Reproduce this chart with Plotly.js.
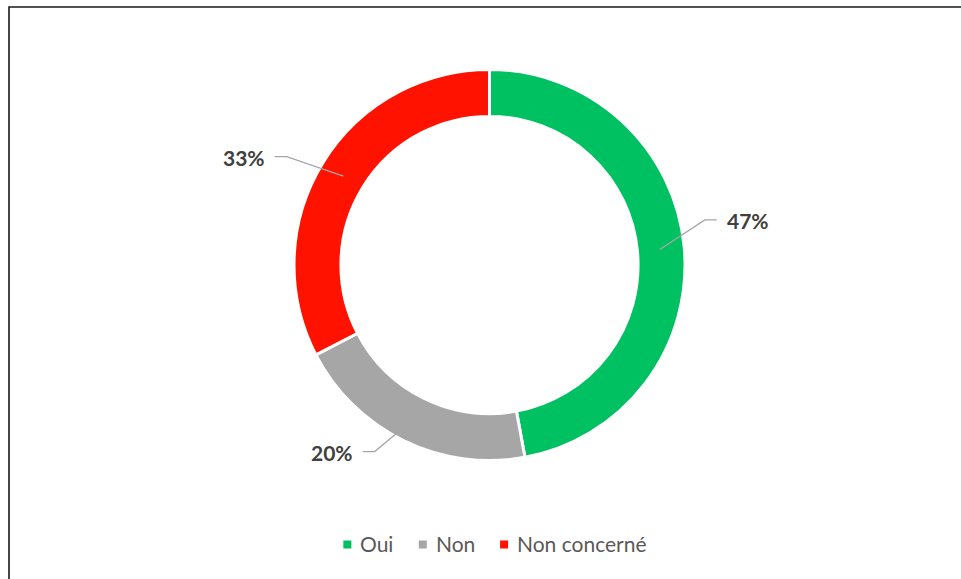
<!DOCTYPE html>
<html>
<head>
<meta charset="utf-8">
<script src="https://cdn.plot.ly/plotly-3.0.1.min.js"></script>
<style>html,body{margin:0;padding:0;background:#fff;}#chart{width:961px;height:579px;}</style>
</head>
<body>
<div id="chart"></div>
<script>
// ---- data ----
const categories = ['Oui', 'Non', 'Non concerné'];
const values = [47.1, 20.3, 32.6];
const colors = ['#00C161', '#A6A6A6', '#FF1200'];

// ---- geometry / style ----
const W = 961, H = 579;
const cx = 489.5, cy = 265, R = 195.5, hole = 0.76;
const startR = 171;
const elbowShift = [-6.6, 5.5, -3.2];   // degrees, label placement nudges
const elbowR = [220, 219, 230];
const tailLen = 12, textGap = 8;
const FONT = 'Lato, "Open Sans", sans-serif';

const px = x => x / W;
const py = y => 1 - y / H;

const total = values.reduce((a, b) => a + b, 0);
const shapes = [];
const annotations = [];

// frame
shapes.push({type: 'rect', xref: 'paper', yref: 'paper',
  x0: px(9), x1: px(W + 20), y0: py(H + 20), y1: py(7),
  line: {color: '#1a1a1a', width: 1.6}, fillcolor: 'rgba(0,0,0,0)', layer: 'below'});

// leader lines & labels
let cum = 0;
values.forEach((v, i) => {
  const mid = (cum + v / 2) / total * 360;
  cum += v;
  const a0 = mid * Math.PI / 180;
  const a1 = (mid + elbowShift[i]) * Math.PI / 180;
  const sx = cx + startR * Math.sin(a0), sy = cy - startR * Math.cos(a0);
  const ex = cx + elbowR[i] * Math.sin(a1), ey = cy - elbowR[i] * Math.cos(a1);
  const right = Math.sin(a1) > 0;
  const tx = ex + (right ? tailLen : -tailLen);
  shapes.push({type: 'path', xref: 'paper', yref: 'paper',
    path: `M${px(sx)},${py(sy)} L${px(ex)},${py(ey)} L${px(tx)},${py(ey)}`,
    line: {color: '#A6A6A6', width: 1.3}});
  annotations.push({xref: 'paper', yref: 'paper',
    x: px(tx + (right ? textGap : -textGap)), y: py(ey + 1),
    xanchor: right ? 'left' : 'right', yanchor: 'middle', showarrow: false,
    text: '<b>' + Math.round(v / total * 100) + '%</b>',
    font: {family: FONT, size: 21, color: '#404040'}});
});

// manual legend
const legFontSize = 21, legY = 544.5, sq = 8, sqGap = 8, itemGap = 26, legCenter = 494.5;
const ctx = document.createElement('canvas').getContext('2d');
ctx.font = legFontSize + 'px ' + FONT;
const widths = categories.map(c => ctx.measureText(c).width);
const totalW = widths.reduce((a, w) => a + sq + sqGap + w, 0) + itemGap * (categories.length - 1);
let lx = legCenter - totalW / 2;
categories.forEach((c, i) => {
  shapes.push({type: 'rect', xref: 'paper', yref: 'paper',
    x0: px(lx), x1: px(lx + sq), y0: py(legY + sq / 2), y1: py(legY - sq / 2),
    fillcolor: colors[i], line: {width: 0}});
  annotations.push({xref: 'paper', yref: 'paper', x: px(lx + sq + sqGap - 1), y: py(legY - 1.5),
    xanchor: 'left', yanchor: 'middle', showarrow: false, text: c,
    font: {family: FONT, size: legFontSize, color: '#595959'}});
  lx += sq + sqGap + widths[i] + itemGap;
});

const trace = {
  type: 'pie',
  labels: categories,
  values: values,
  sort: false,
  direction: 'clockwise',
  rotation: 0,
  hole: hole,
  textinfo: 'none',
  hoverinfo: 'label+percent',
  marker: {colors: colors, line: {color: '#ffffff', width: 3}},
  domain: {x: [px(cx - R), px(cx + R)], y: [py(cy + R), py(cy - R)]},
  showlegend: false
};

Plotly.newPlot('chart', [trace], {
  width: W, height: H,
  margin: {l: 0, r: 0, t: 0, b: 0},
  paper_bgcolor: '#ffffff',
  showlegend: false,
  shapes: shapes,
  annotations: annotations,
  font: {family: FONT}
}, {displayModeBar: false, staticPlot: true});
</script>
</body>
</html>
